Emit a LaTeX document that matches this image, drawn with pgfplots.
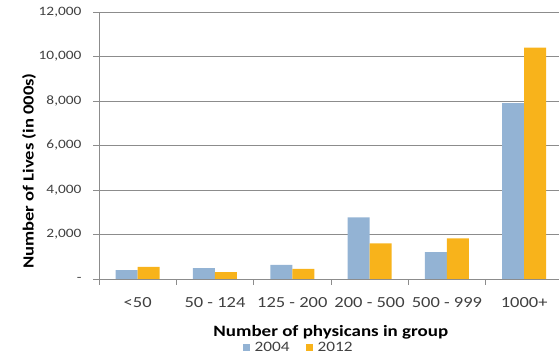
\documentclass[border=0pt]{standalone}
\usepackage{fontspec}
\setmainfont{Carlito}[FakeStretch=1.2]
\usepackage{pgfplots}
\pgfplotsset{compat=1.18}

\definecolor{bar2004}{HTML}{93B3D4}
\definecolor{bar2012}{HTML}{F8B31B}
\definecolor{gridgray}{HTML}{8C8C8C}
\definecolor{ticktext}{HTML}{404040}

\begin{document}
\begin{tikzpicture}
\useasboundingbox (0pt,0pt) rectangle (559pt,358pt);
\begin{axis}[
    at={(99pt,79pt)}, anchor=south west,
    scale only axis,
    width=460pt, height=267pt,
    ybar=0pt, bar width=22pt,
    xmin=-0.5, xmax=5.45,
    ymin=0, ymax=12000,
    scaled y ticks=false,
    axis lines*=left,
    axis line style={draw=gridgray, line width=0.8pt, -},
    ymajorgrids,
    grid style={draw=gridgray, line width=0.8pt},
    tick align=outside,
    major tick length=6pt,
    ytick={0,2000,4000,6000,8000,10000,12000},
    yticklabels={{-},{2,000},{4,000},{6,000},{8,000},{10,000},{12,000}},
    xtick={0,1,2,3,4,5},
    xticklabels={{<50},{50 - 124},{125 - 200},{200 - 500},{500 - 999},{1000+}},
    xtick style={draw=none},
    extra x ticks={-0.5,0.5,1.5,2.5,3.5,4.5},
    extra x tick labels={},
    extra x tick style={xtick style={draw=gridgray, line width=0.8pt}, major tick length=6pt},
    ytick style={draw=gridgray, line width=0.8pt},
    yticklabel style={font=\fontsize{12.8}{15}\selectfont, text=ticktext, xshift=-8pt},
    xticklabel style={font=\fontsize{15.4}{18}\selectfont, text=ticktext, yshift=-9pt},
    xlabel={Number of physicans in group},
    ylabel={Number of Lives (in 000s)},
    every axis x label/.style={at={(axis description cs:0.504,-0.200)}, anchor=center,
        font=\fontsize{15.8}{18}\selectfont\bfseries},
    every axis y label/.style={at={(axis description cs:-0.152,0.404)}, anchor=center, rotate=90,
        font=\fontsize{15.5}{18}\selectfont\bfseries},
    legend style={at={(axis description cs:0.434,-0.258)}, anchor=center,
        draw=none, fill=none, legend columns=2,
        font=\fontsize{14.4}{16}\selectfont, text=ticktext,
        /tikz/every even column/.append style={column sep=14pt}},
    legend image code/.code={\fill[#1] (0pt,-3.5pt) rectangle (7pt,3.5pt); \path (10pt,0pt);},
]
\addplot[fill=bar2004, draw=none] coordinates {(0,400) (1,490) (2,630) (3,2770) (4,1210) (5,7900)};
\addplot[fill=bar2012, draw=none] coordinates {(0,540) (1,310) (2,450) (3,1600) (4,1830) (5,10400)};
\legend{2004,2012}
\end{axis}
\end{tikzpicture}
\end{document}
